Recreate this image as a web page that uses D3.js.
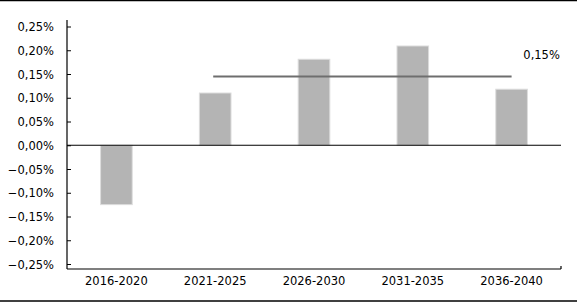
<!DOCTYPE html>
<html lang="en">

<head>
    <meta charset="UTF-8">
    <title>bar chart periods</title>
    <script src="https://d3js.org/d3.v7.min.js" charset="utf-8"></script>
    <style type="text/css">
        body {
            margin: 0;
            background: #fff;
        }

        svg text {
            font-family: "DejaVu Sans", sans-serif;
            font-size: 11.5px;
            fill: #000;
        }
    </style>
</head>

<body>
    <script type="text/javascript">
        // data
        const periods = ["2016-2020", "2021-2025", "2026-2030", "2031-2035", "2036-2040"];
        const values = [-0.125, 0.110, 0.181, 0.209, 0.118];
        const avgValue = 0.145;
        const avgLabel = "0,15%";
        const avgFrom = "2021-2025",
            avgTo = "2036-2040";
        const yTicks = [0.25, 0.20, 0.15, 0.10, 0.05, 0, -0.05, -0.10, -0.15, -0.20, -0.25];

        let w = 577,
            h = 303,
            margin = {
                top: 20,
                right: 16,
                bottom: 34,
                left: 67
            };

        let svg = d3.select("body").append("svg").attr('width', w).attr('height', h);

        // frame lines top and bottom
        svg.append("line").attr("x1", 0).attr("x2", w).attr("y1", 0.5).attr("y2", 0.5)
            .attr("stroke", "#000").attr("stroke-width", 1.5);
        svg.append("line").attr("x1", 0).attr("x2", w).attr("y1", 301).attr("y2", 301)
            .attr("stroke", "#000").attr("stroke-width", 1.5);

        const xScale = d3.scaleBand()
            .domain(periods)
            .range([margin.left, w - margin.right])
            .paddingInner(0.68)
            .paddingOuter(0.34);

        const yScale = d3.scaleLinear()
            .domain([-0.2605, 0.2637])
            .range([h - margin.bottom, margin.top]);

        // bars
        svg.selectAll("rect.bar")
            .data(values)
            .enter()
            .append("rect")
            .attr("class", "bar")
            .attr("x", (d, i) => xScale(periods[i]))
            .attr("width", xScale.bandwidth())
            .attr("y", d => yScale(Math.max(0, d)))
            .attr("height", d => Math.abs(yScale(d) - yScale(0)))
            .attr("fill", "#b4b4b4")
            .attr("stroke", "#dcdcdc")
            .attr("stroke-width", 1);

        // y axis, inner ticks
        const yAxis = d3.axisRight(yScale)
            .tickValues(yTicks)
            .tickSize(4)
            .tickFormat("");
        const yAxisG = svg.append('g')
            .attr('transform', `translate(${margin.left}, 0)`)
            .call(yAxis);
        yAxisG.select(".domain").remove();
        yAxisG.selectAll("line").attr("stroke", "#000");
        svg.append("line")
            .attr("x1", margin.left).attr("x2", margin.left)
            .attr("y1", margin.top).attr("y2", h - margin.bottom)
            .attr("stroke", "#000").attr("stroke-width", 1.2);

        svg.selectAll("text.ylab")
            .data(yTicks)
            .enter()
            .append("text")
            .attr("class", "ylab")
            .attr("x", margin.left - 13)
            .attr("y", d => yScale(d))
            .attr("dy", "0.4em")
            .attr("text-anchor", "end")
            .text(d => d3.format(".2f")(d).replace(".", ",") + "%");

        // zero line
        svg.append("line")
            .attr("x1", margin.left).attr("x2", w - margin.right)
            .attr("y1", yScale(0)).attr("y2", yScale(0))
            .attr("stroke", "#000").attr("stroke-width", 1.2);

        // bottom axis line with end tick
        svg.append("line")
            .attr("x1", margin.left).attr("x2", w - margin.right)
            .attr("y1", h - margin.bottom).attr("y2", h - margin.bottom)
            .attr("stroke", "#000").attr("stroke-width", 1.2);
        svg.append("line")
            .attr("x1", w - margin.right).attr("x2", w - margin.right)
            .attr("y1", h - margin.bottom).attr("y2", h - margin.bottom - 3)
            .attr("stroke", "#000").attr("stroke-width", 1.2);

        svg.selectAll("text.xlab")
            .data(periods)
            .enter()
            .append("text")
            .attr("class", "xlab")
            .attr("x", d => xScale(d) + xScale.bandwidth() / 2)
            .attr("y", 285)
            .attr("text-anchor", "middle")
            .text(d => d);

        // average line
        const cx = d => xScale(d) + xScale.bandwidth() / 2;
        svg.append("line")
            .attr("x1", cx(avgFrom) - 2).attr("x2", cx(avgTo))
            .attr("y1", yScale(avgValue)).attr("y2", yScale(avgValue))
            .attr("stroke", "#6e6e6e").attr("stroke-width", 2);

        svg.append("text")
            .attr("x", cx(avgTo) + 30)
            .attr("y", yScale(avgValue) - 17)
            .attr("text-anchor", "middle")
            .text(avgLabel);
    </script>
</body>

</html>
